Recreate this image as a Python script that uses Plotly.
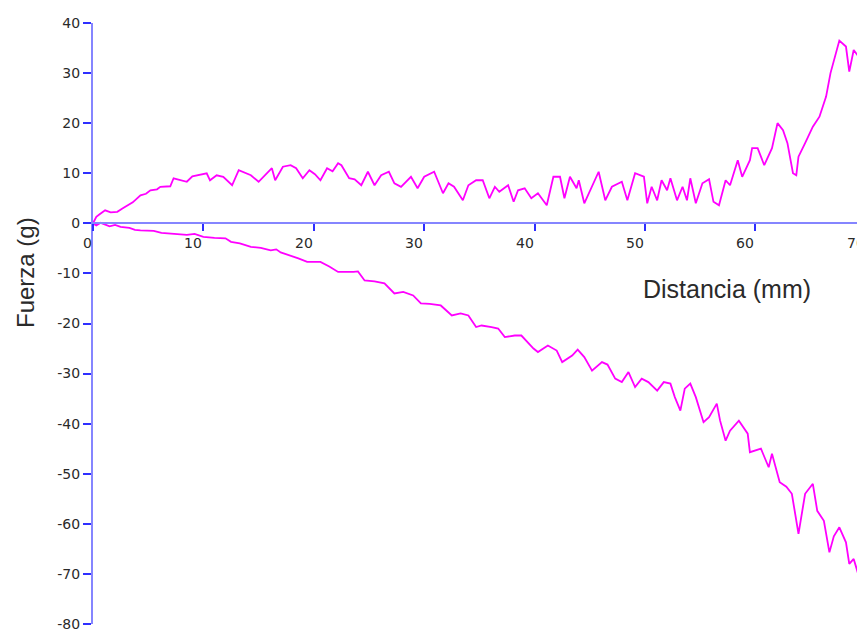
import plotly.graph_objects as go

# Force (g) versus distance (mm): the two traces of the run
dist_up = [0, 0.3, 0.6, 1.1, 1.6, 2.2, 2.7, 3.2, 3.6, 4.3, 4.8, 5.2, 5.8, 6.1, 7.0, 7.3, 7.9, 8.5,
           9.0, 9.4, 10.3, 10.6, 11.2, 11.8, 12.6, 13.2, 13.8, 14.3, 15.0, 15.6, 16.2, 16.5, 17.2,
           17.9, 18.4, 19.0, 19.6, 20.1, 20.6, 21.2, 21.7, 22.2, 22.5, 23.2, 23.7, 24.3, 24.9, 25.5,
           26.1, 26.8, 27.3, 27.9, 28.8, 29.4, 30.0, 30.9, 31.7, 32.2, 32.7, 33.5, 34.0, 34.7, 35.3,
           35.9, 36.4, 36.8, 37.6, 38.1, 38.5, 39.1, 39.7, 40.3, 41.1, 41.7, 42.3, 42.7, 43.2, 43.8,
           44.0, 44.5, 45.2, 45.8, 46.4, 47.0, 47.9, 48.4, 49.1, 49.9, 50.2, 50.6, 51.1, 51.5, 52.0,
           52.3, 52.9, 53.4, 53.8, 54.1, 54.6, 55.2, 55.8, 56.2, 56.7, 57.3, 57.7, 58.4, 58.8, 59.5,
           59.7, 60.2, 60.8, 61.5, 62.0, 62.5, 62.9, 63.4, 63.7, 63.9, 64.5, 65.2, 65.8, 66.4, 66.8,
           67.3, 67.6, 68.2, 68.5, 68.9, 69.4, 69.6]
force_up = [0, 1.3, 1.8, 2.6, 2.2, 2.3, 3.0, 3.6, 4.2, 5.6, 5.9, 6.6, 6.8, 7.3, 7.4, 9.0, 8.7, 8.3,
            9.4, 9.6, 10.0, 8.6, 9.6, 9.3, 7.6, 10.6, 10.0, 9.6, 8.3, 9.6, 11.0, 8.6, 11.3,
            11.6, 11.0, 9.0, 10.6, 9.8, 8.6, 11.0, 10.4, 12.0, 11.6, 9.0, 8.8, 7.6, 10.3, 7.6,
            9.6, 10.3, 8.0, 7.3, 9.3, 7.0, 9.3, 10.3, 6.0, 8.0, 7.3, 4.6, 7.6, 8.6, 8.6,
            5.0, 7.3, 6.3, 7.6, 4.3, 6.6, 7.0, 5.0, 6.0, 3.6, 9.3, 9.3, 5.0, 9.3, 7.0,
            8.6, 4.0, 7.3, 10.3, 4.6, 7.3, 8.3, 4.6, 10.0, 9.3, 4.0, 7.3, 4.6, 8.6, 6.6,
            9.0, 4.6, 7.3, 4.6, 9.0, 4.0, 8.0, 8.8, 4.3, 3.6, 8.6, 7.6, 12.6, 9.3, 12.6,
            15.0, 15.0, 11.6, 15.0, 20.0, 18.6, 16.0, 10.0, 9.6, 13.3, 16.0, 19.3, 21.3, 25.3, 30.0,
            34.0, 36.5, 35.3, 30.3, 34.6, 33.0, 32.5]

dist_down = [0, 0.3, 0.7, 1.0, 1.5, 2.0, 2.5, 3.3, 3.8, 4.3, 5.5, 6.2, 7.0, 8.5, 9.2, 10.0, 11.0,
             12.0, 12.5, 13.3, 14.3, 15.2, 16.1, 16.6, 17.0, 17.9, 18.6, 19.4, 20.6, 21.4, 22.2,
             23.6, 24.0, 24.6, 25.5, 26.4, 27.3, 28.1, 29.0, 29.7, 30.5, 31.5, 32.5, 33.3, 34.0,
             34.7, 35.2, 36.1, 36.7, 37.3, 38.2, 38.8, 39.9, 40.3, 41.2, 42.0, 42.5, 43.4, 43.9,
             44.5, 45.2, 46.1, 46.6, 47.3, 47.9, 48.5, 49.1, 49.7, 50.3, 51.1, 51.7, 52.3, 52.7,
             53.2, 53.6, 54.1, 54.6, 55.3, 55.8, 56.5, 56.8, 57.3, 57.7, 58.5, 59.3, 59.5, 60.5,
             61.2, 61.5, 62.2, 62.8, 63.3, 63.9, 64.5, 65.2, 65.6, 66.2, 66.7, 67.1, 67.6, 68.2,
             68.5, 68.9, 69.4, 69.6]
force_down = [0, -0.4, 0.1, -0.2, -0.6, -0.3, -0.7, -0.9, -1.3, -1.4, -1.5, -1.9, -2.0, -2.3, -2.1,
              -2.7, -2.9, -3.0, -3.7, -4.0, -4.7, -4.9, -5.4, -5.2, -5.8, -6.4, -7.0, -7.7, -7.7,
              -8.6, -9.7, -9.7, -9.6, -11.4, -11.6, -12.0, -14.0, -13.7, -14.4, -16.0, -16.1, -16.4,
              -18.4, -18.0, -18.4, -20.7, -20.4, -20.7, -21.0, -22.7, -22.4, -22.4, -25.0, -25.7,
              -24.4, -25.4, -27.7, -26.4, -25.2, -26.7, -29.4, -27.7, -28.2, -31.0, -31.7, -29.7,
              -32.7, -31.0, -31.7, -33.4, -31.7, -32.0, -34.7, -37.4, -33.0, -32.0, -34.7, -39.7,
              -38.7, -36.0, -39.4, -43.4, -41.4, -39.4, -42.0, -45.7, -45.0, -48.7, -46.0, -51.7,
              -52.6, -54.0, -62.0, -54.0, -52.0, -57.4, -59.4, -65.7, -62.5, -60.7, -63.7, -68.0,
              -67.0, -70.7, -70.0]

x_ticks = [0, 10, 20, 30, 40, 50, 60, 70]
y_ticks = [40, 30, 20, 10, 0, -10, -20, -30, -40, -50, -60, -70, -80]
y_tick_text = [str(v) for v in y_ticks]  # plain hyphen minus

X_RANGE = [0, 69.2]
Y_RANGE = [-80, 40]

LINE_COLOR = "#ff00ff"
AXIS_COLOR = "#8585ff"
TICK_COLOR = "#2f2fff"
TEXT_COLOR = "#2a2a2a"

fig = go.Figure()
fig.add_trace(go.Scatter(x=dist_up, y=force_up, mode="lines",
                         line=dict(color=LINE_COLOR, width=1.8), showlegend=False))
fig.add_trace(go.Scatter(x=dist_down, y=force_down, mode="lines",
                         line=dict(color=LINE_COLOR, width=1.8), showlegend=False))

# x axis crosses at force = 0
zero_frac = (0 - Y_RANGE[0]) / (Y_RANGE[1] - Y_RANGE[0])

fig.update_layout(
    width=857, height=631,
    margin=dict(l=93, r=0, t=23, b=7),
    paper_bgcolor="white", plot_bgcolor="white",
    xaxis=dict(range=X_RANGE, anchor="free", position=zero_frac,
               showgrid=False, zeroline=False,
               showline=True, linecolor=AXIS_COLOR, linewidth=2,
               tickmode="array", tickvals=x_ticks, ticks="outside",
               ticklen=7, tickwidth=2, tickcolor=TICK_COLOR,
               showticklabels=False),
    yaxis=dict(range=Y_RANGE, showgrid=False, zeroline=False,
               showline=True, linecolor=AXIS_COLOR, linewidth=2,
               tickmode="array", tickvals=y_ticks, ticktext=y_tick_text,
               ticks="outside", ticklen=8, tickwidth=2, tickcolor=TICK_COLOR,
               ticklabeloverflow="allow",
               tickfont=dict(family="DejaVu Sans", size=14, color=TEXT_COLOR)),
)

# x tick labels sit just left of their tick, below the axis
x_span = X_RANGE[1] - X_RANGE[0]
for v in x_ticks:
    fig.add_annotation(x=(v - X_RANGE[0]) / x_span, xref="paper",
                       y=zero_frac, yref="paper",
                       text=str(v), showarrow=False,
                       xanchor="right", yanchor="top", yshift=-10, xshift=1,
                       font=dict(family="DejaVu Sans", size=14, color=TEXT_COLOR))

# axis titles
fig.add_annotation(x=0, xref="paper", xshift=-68, y=0.584, yref="paper",
                   text="Fuerza (g)", showarrow=False, textangle=-90,
                   xanchor="center", yanchor="middle",
                   font=dict(family="Liberation Sans", size=24, color=TEXT_COLOR))
fig.add_annotation(x=0.717, xref="paper", y=0.557, yref="paper",
                   text="Distancia (mm)", showarrow=False,
                   xanchor="left", yanchor="middle",
                   font=dict(family="Liberation Sans", size=25, color=TEXT_COLOR))

fig.write_html("out.html")
